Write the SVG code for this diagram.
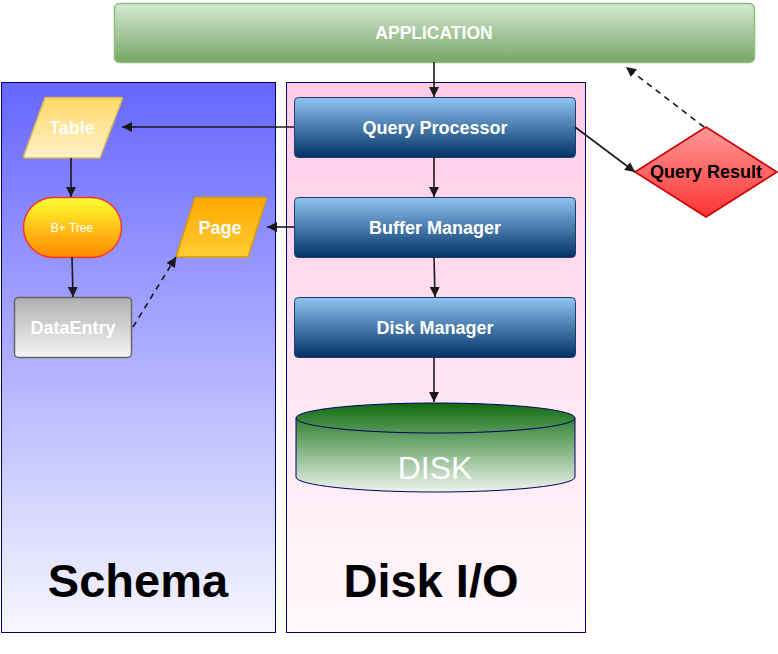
<svg xmlns="http://www.w3.org/2000/svg" width="778" height="654" viewBox="0 0 778 654">
<defs>
<linearGradient id="gSchema" x1="0" y1="0" x2="0" y2="1"><stop offset="0" stop-color="#6666ff"/><stop offset="1" stop-color="#f7f7ff"/></linearGradient>
<linearGradient id="gDisk" x1="0" y1="0" x2="0" y2="1"><stop offset="0" stop-color="#ffcce6"/><stop offset="1" stop-color="#fff9fc"/></linearGradient>
<linearGradient id="gApp" x1="0" y1="0" x2="0" y2="1"><stop offset="0" stop-color="#d5e8d4"/><stop offset="1" stop-color="#77a765"/></linearGradient>
<linearGradient id="gBlue" x1="0" y1="0" x2="0" y2="1"><stop offset="0" stop-color="#8fc4f2"/><stop offset="1" stop-color="#023166"/></linearGradient>
<linearGradient id="gCyl" x1="0" y1="0" x2="0" y2="1"><stop offset="0" stop-color="#0e6b0e"/><stop offset="1" stop-color="#eef5ee"/></linearGradient>
<linearGradient id="gTable" x1="0" y1="0" x2="0" y2="1"><stop offset="0" stop-color="#ffd966"/><stop offset="1" stop-color="#fff2cc"/></linearGradient>
<linearGradient id="gBtree" x1="0" y1="0" x2="0" y2="1"><stop offset="0" stop-color="#ffff33"/><stop offset="1" stop-color="#ff8800"/></linearGradient>
<linearGradient id="gPage" x1="0" y1="0" x2="0" y2="1"><stop offset="0" stop-color="#ffaa00"/><stop offset="1" stop-color="#ffcc33"/></linearGradient>
<linearGradient id="gGray" x1="0" y1="0" x2="0" y2="1"><stop offset="0" stop-color="#b0b0b0"/><stop offset="1" stop-color="#f5f5f5"/></linearGradient>
<linearGradient id="gRed" x1="0" y1="0" x2="0" y2="1"><stop offset="0" stop-color="#ff9999"/><stop offset="1" stop-color="#ff3333"/></linearGradient>
<marker id="arr" viewBox="0 0 10 10" refX="10" refY="5" markerWidth="10" markerHeight="10" markerUnits="userSpaceOnUse" orient="auto"><path d="M0,0 L10,5 L0,10 Z" fill="#1a1a1a"/></marker>
<style>
.conn{stroke:#1a1a1a;stroke-width:1.6;fill:none;marker-end:url(#arr)}
.dash{stroke-dasharray:6 5}
.bt{font-family:"Liberation Sans",Arial,sans-serif;font-weight:bold;fill:#ffffff;text-anchor:middle}
.blue{fill:url(#gBlue);stroke:#1b3e66;stroke-width:1}
.big{font-family:"Liberation Sans",Arial,sans-serif;font-weight:bold;font-size:47px;fill:#000;text-anchor:middle}
</style>
</defs>
<g id="schema-panel"><rect x="1.5" y="82.5" width="274" height="550" fill="url(#gSchema)" stroke="#000066" stroke-width="1"/><text class="big" x="138" y="597">Schema</text></g>
<g id="diskio-panel"><rect x="286.5" y="82.5" width="299" height="550" fill="url(#gDisk)" stroke="#000066" stroke-width="1"/><text class="big" x="431" y="597">Disk I/O</text></g>
<g id="application"><rect x="114.5" y="3.5" width="640" height="59" rx="5" fill="url(#gApp)" stroke="#8ebf7a" stroke-width="1.5"/><text class="bt" x="434" y="39" font-size="17.5">APPLICATION</text></g>
<g id="query-processor"><rect class="blue" x="294.5" y="97.5" width="281" height="60" rx="4"/><text class="bt" x="435" y="134" font-size="18">Query Processor</text></g>
<g id="buffer-manager"><rect class="blue" x="294.5" y="197.5" width="281" height="60" rx="4"/><text class="bt" x="435" y="234" font-size="18">Buffer Manager</text></g>
<g id="disk-manager"><rect class="blue" x="294.5" y="297.5" width="281" height="60" rx="4"/><text class="bt" x="435" y="334" font-size="18">Disk Manager</text></g>
<g id="disk"><path d="M296,418 A139.5,15 0 0 1 575,418 L575,477 A139.5,15 0 0 1 296,477 Z" fill="url(#gCyl)" stroke="#000066" stroke-width="1"/><path d="M296,418 A139.5,15 0 0 0 575,418" fill="none" stroke="#000066" stroke-width="1"/><text x="435" y="479" font-family="Liberation Sans,Arial,sans-serif" font-size="32" fill="#ffffff" text-anchor="middle">DISK</text></g>
<g id="table"><path d="M45,97.5 L121,97.5 Q123,97.5 122,100 L100,158 L25,158 Q23,158 24,155 Z" fill="url(#gTable)" stroke="#d6b656" stroke-width="1.5"/><text class="bt" x="72" y="134" font-size="18">Table</text></g>
<g id="btree"><rect x="23.5" y="197.5" width="98" height="60" rx="30" fill="url(#gBtree)" stroke="#ff3333" stroke-width="1.5"/><text x="72" y="232" font-family="Liberation Sans,Arial,sans-serif" font-size="12" fill="#ffffff" text-anchor="middle">B+ Tree</text></g>
<g id="page"><path d="M195,197.5 L265,197.5 Q267,197.5 266,200 L248,257 L178,257 Q176,257 177,254 Z" fill="url(#gPage)" stroke="#d79b00" stroke-width="1.5"/><text class="bt" x="220" y="234" font-size="18">Page</text></g>
<g id="dataentry"><rect x="14.5" y="297.5" width="117" height="60" rx="4" fill="url(#gGray)" stroke="#666666" stroke-width="1.5"/><text class="bt" x="73" y="334" font-size="18">DataEntry</text></g>
<g id="query-result"><path d="M635,172 L706,127 L777,172 L706,217 Z" fill="url(#gRed)" stroke="#cc0000" stroke-width="1.5"/><text x="706" y="178" font-family="Liberation Sans,Arial,sans-serif" font-weight="bold" font-size="18" fill="#000" text-anchor="middle">Query Result</text></g>
<g id="connectors">
<path class="conn" d="M434,62 L434,97"/>
<path class="conn" d="M294,127 L122,127"/>
<path class="conn" d="M434,157 L434,197"/>
<path class="conn" d="M434,257 L435,297"/>
<path class="conn" d="M434,357 L434,402"/>
<path class="conn" d="M294,227 L267,227"/>
<path class="conn" d="M71,158 L71,197"/>
<path class="conn" d="M72,257 L73,297"/>
<path class="conn dash" d="M133,327 L176,257"/>
<path class="conn" d="M575,127 L635,172"/>
<path class="conn dash" d="M704,127 L626,67"/>
</g>
</svg>
